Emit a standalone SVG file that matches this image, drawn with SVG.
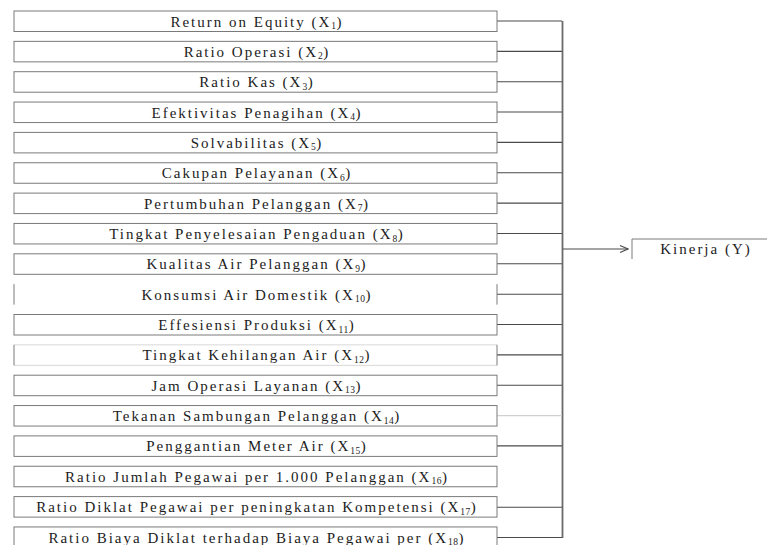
<svg xmlns="http://www.w3.org/2000/svg" width="767" height="545" viewBox="0 0 767 545">
<style>
.box{fill:#fff;stroke:#7a7a7a;stroke-width:1}
.edge{stroke:#7a7a7a;stroke-width:1;fill:none}
.faint{stroke:#d8d8d8;stroke-width:1;fill:none}
.lbl{font-family:"Liberation Serif","Times New Roman",serif;font-size:15px;fill:#1c1c1c;text-anchor:middle;letter-spacing:2px}
.sub{font-size:9.5px;letter-spacing:0.5px}
.con{stroke:#4a4a4a;stroke-width:1.1;fill:none}
.conf{stroke:#d0d0d0;stroke-width:1.1;fill:none}
.bus{stroke:#6a6a6a;stroke-width:1.8;fill:none}
</style>
<defs>
<marker id="arr" markerWidth="10" markerHeight="10" refX="9" refY="5" orient="auto" markerUnits="userSpaceOnUse">
<path d="M1,1.5 L9,5 L1,8.5" fill="none" stroke="#4a4a4a" stroke-width="1.1"/>
</marker>
</defs>
<rect width="767" height="545" fill="#fff"/>
<g id="connectors">
<line class="bus" x1="562.5" y1="21" x2="562.5" y2="538"/>
<line class="con" x1="497" y1="21" x2="562" y2="21"/>
<line class="con" x1="497" y1="51.4" x2="562" y2="51.4"/>
<line class="con" x1="497" y1="81.7" x2="562" y2="81.7"/>
<line class="con" x1="497" y1="112" x2="562" y2="112"/>
<line class="con" x1="497" y1="142.4" x2="562" y2="142.4"/>
<line class="con" x1="497" y1="172.8" x2="562" y2="172.8"/>
<line class="con" x1="497" y1="203.1" x2="562" y2="203.1"/>
<line class="con" x1="497" y1="233.5" x2="562" y2="233.5"/>
<line class="con" x1="497" y1="263.8" x2="562" y2="263.8"/>
<line class="con" x1="497" y1="294.2" x2="562" y2="294.2"/>
<line class="con" x1="497" y1="324.5" x2="562" y2="324.5"/>
<line class="con" x1="497" y1="354.9" x2="562" y2="354.9"/>
<line class="con" x1="497" y1="385.2" x2="562" y2="385.2"/>
<line class="conf" x1="497" y1="415.6" x2="562" y2="415.6"/>
<line class="con" x1="497" y1="445.9" x2="562" y2="445.9"/>
<line class="con" x1="497" y1="507.3" x2="562" y2="507.3"/>
<line class="con" x1="497" y1="537.5" x2="562" y2="537.5"/>
<line class="con" x1="563" y1="249" x2="628" y2="249" marker-end="url(#arr)"/>
</g>
<g id="x1"><rect class="box" x="14" y="11" width="483" height="20.5"/><text class="lbl" x="257" y="26.5">Return on Equity (X<tspan class="sub" dy="2.5">1</tspan><tspan dy="-2.5">)</tspan></text></g>
<g id="x2"><rect class="box" x="14" y="41.35" width="483" height="20.5"/><text class="lbl" x="257" y="56.9">Ratio Operasi (X<tspan class="sub" dy="2.5">2</tspan><tspan dy="-2.5">)</tspan></text></g>
<g id="x3"><rect class="box" x="14" y="71.7" width="483" height="20.5"/><text class="lbl" x="257" y="87.2">Ratio Kas (X<tspan class="sub" dy="2.5">3</tspan><tspan dy="-2.5">)</tspan></text></g>
<g id="x4"><rect class="box" x="14" y="102.05" width="483" height="20.5"/><text class="lbl" x="257" y="117.5">Efektivitas Penagihan (X<tspan class="sub" dy="2.5">4</tspan><tspan dy="-2.5">)</tspan></text></g>
<g id="x5"><rect class="box" x="14" y="132.4" width="483" height="20.5"/><text class="lbl" x="257" y="147.9">Solvabilitas (X<tspan class="sub" dy="2.5">5</tspan><tspan dy="-2.5">)</tspan></text></g>
<g id="x6"><rect class="box" x="14" y="162.75" width="483" height="20.5"/><text class="lbl" x="257" y="178.3">Cakupan Pelayanan (X<tspan class="sub" dy="2.5">6</tspan><tspan dy="-2.5">)</tspan></text></g>
<g id="x7"><rect class="box" x="14" y="193.1" width="483" height="20.5"/><text class="lbl" x="257" y="208.6">Pertumbuhan Pelanggan (X<tspan class="sub" dy="2.5">7</tspan><tspan dy="-2.5">)</tspan></text></g>
<g id="x8"><rect class="box" x="14" y="223.45" width="483" height="20.5"/><text class="lbl" x="257" y="239">Tingkat Penyelesaian Pengaduan (X<tspan class="sub" dy="2.5">8</tspan><tspan dy="-2.5">)</tspan></text></g>
<g id="x9"><rect class="box" x="14" y="253.8" width="483" height="20.5"/><text class="lbl" x="257" y="269.3">Kualitas Air Pelanggan (X<tspan class="sub" dy="2.5">9</tspan><tspan dy="-2.5">)</tspan></text></g>
<g id="x10"><line class="edge" x1="14" y1="284.15" x2="14" y2="304.65"/><line class="edge" x1="497" y1="284.15" x2="497" y2="304.65"/><text class="lbl" x="257" y="299.7">Konsumsi Air Domestik (X<tspan class="sub" dy="2.5">10</tspan><tspan dy="-2.5">)</tspan></text></g>
<g id="x11"><rect class="box" x="14" y="314.5" width="483" height="20.5"/><text class="lbl" x="257" y="330">Effesiensi Produksi (X<tspan class="sub" dy="2.5">11</tspan><tspan dy="-2.5">)</tspan></text></g>
<g id="x12"><line class="faint" x1="14" y1="344.85" x2="497" y2="344.85"/><line class="faint" x1="14" y1="365.35" x2="497" y2="365.35"/><line class="edge" x1="14" y1="344.85" x2="14" y2="365.35"/><line class="edge" x1="497" y1="344.85" x2="497" y2="365.35"/><text class="lbl" x="257" y="360.4">Tingkat Kehilangan Air (X<tspan class="sub" dy="2.5">12</tspan><tspan dy="-2.5">)</tspan></text></g>
<g id="x13"><rect class="box" x="14" y="375.2" width="483" height="20.5"/><text class="lbl" x="257" y="390.7">Jam Operasi Layanan (X<tspan class="sub" dy="2.5">13</tspan><tspan dy="-2.5">)</tspan></text></g>
<g id="x14"><rect class="box" x="14" y="405.55" width="483" height="20.5"/><text class="lbl" x="257" y="421.1">Tekanan Sambungan Pelanggan (X<tspan class="sub" dy="2.5">14</tspan><tspan dy="-2.5">)</tspan></text></g>
<g id="x15"><rect class="box" x="14" y="435.9" width="483" height="20.5"/><text class="lbl" x="257" y="451.4">Penggantian Meter Air (X<tspan class="sub" dy="2.5">15</tspan><tspan dy="-2.5">)</tspan></text></g>
<g id="x16"><rect class="box" x="14" y="466.25" width="483" height="20.5"/><text class="lbl" x="257" y="481.8">Ratio Jumlah Pegawai per 1.000 Pelanggan (X<tspan class="sub" dy="2.5">16</tspan><tspan dy="-2.5">)</tspan></text></g>
<g id="x17"><rect class="box" x="14" y="496.6" width="483" height="20.5"/><text class="lbl" x="257" y="512.1">Ratio Diklat Pegawai per peningkatan Kompetensi (X<tspan class="sub" dy="2.5">17</tspan><tspan dy="-2.5">)</tspan></text></g>
<g id="x18"><rect class="box" x="14" y="526.95" width="483" height="20.5"/><text class="lbl" x="257" y="542.5">Ratio Biaya Diklat terhadap Biaya Pegawai per (X<tspan class="sub" dy="2.5">18</tspan><tspan dy="-2.5">)</tspan></text></g>
<g id="y"><polyline class="edge" points="632,259 632,239 767,239"/><text class="lbl" x="706" y="253.5">Kinerja (Y)</text></g>
</svg>
